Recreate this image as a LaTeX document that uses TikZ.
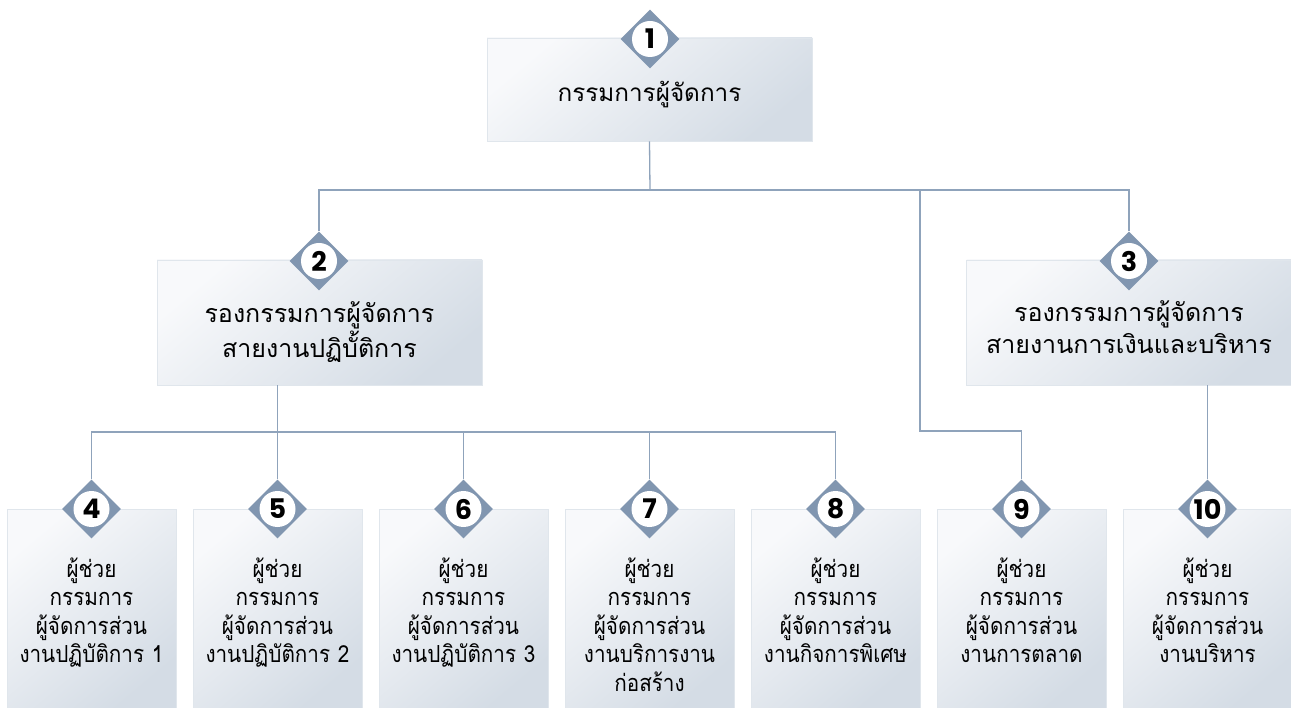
\documentclass[tikz,border=0pt]{standalone}
\usepackage{fontspec}
\usepackage{tikz}
\usetikzlibrary{shapes.geometric}
\newfontfamily\thaifont[Script=Thai]{Loma}
\newfontfamily\thainarrow[Script=Thai, FakeStretch=0.88]{Loma}
\newfontfamily\numfont{Poppins}
\definecolor{badgeblue}{HTML}{8196B0}
\definecolor{linkblue}{HTML}{8FA3BB}
\definecolor{boxlight}{HTML}{F8F9FB}
\definecolor{boxdark}{HTML}{D4DCE5}
\definecolor{boxedge}{HTML}{E0E6EC}

\begin{document}
\begin{tikzpicture}[x=1pt, y=-1pt, every node/.style={inner sep=0pt},
    post/.style={rectangle, draw=boxedge, line width=0.8pt, top color=boxlight, bottom color=boxdark, shading angle=40},
    badge/.style={diamond, fill=badgeblue, minimum size=59pt, font=\numfont\bfseries\fontsize{27}{27}\selectfont,
      path picture={\fill[white] (path picture bounding box.center) circle (18pt);}},
    title/.style={font=\thainarrow\fontsize{23.5}{28.6}\selectfont, align=center, text width=180pt, anchor=base},
    headtitle/.style={title, text width=300pt, font=\thaifont\fontsize{25}{32}\selectfont},
    link/.style={draw=linkblue, line width=1.3pt}]

    \useasboundingbox (0,0) rectangle (1291,708);

    \node [post, minimum width=325pt, minimum height=103pt] (box1) at (649.5, 89.5) {};
    \node [post, minimum width=325pt, minimum height=125pt] (box2) at (319.5, 322.5) {};
    \node [post, minimum width=325pt, minimum height=125pt] (box3) at (1129, 322.5) {};

    \node [post, minimum width=169pt, minimum height=199pt] (box4) at (91.5, 608.5) {};
    \node [post, minimum width=169pt, minimum height=199pt] (box5) at (277.5, 608.5) {};
    \node [post, minimum width=169pt, minimum height=199pt] (box6) at (463.5, 608.5) {};
    \node [post, minimum width=169pt, minimum height=199pt] (box7) at (649.5, 608.5) {};
    \node [post, minimum width=169pt, minimum height=199pt] (box8) at (835.5, 608.5) {};
    \node [post, minimum width=169pt, minimum height=199pt] (box9) at (1021.5, 608.5) {};
    \node [post, minimum width=169pt, minimum height=199pt] (box10) at (1207.5, 608.5) {};

    \node [headtitle, font=\thaifont\fontsize{24.3}{32}\selectfont] (t1) at (649.5, 102) {กรรมการผู้จัดการ};
    \node [headtitle] (t2) at (319.5, 323) {รองกรรมการผู้จัดการ\\สายงานปฏิบั้ติการ};
    \node [headtitle] (t3) at (1129, 322) {รองกรรมการผู้จัดการ\\สายงานการเงินและบริหาร};

    \node [title] (t4) at (91.5, 577) {ผู้ช่วย\\กรรมการ\\ผู้จัดการส่วน\\งานปฏิบัติการ 1};
    \node [title] (t5) at (277.5, 577) {ผู้ช่วย\\กรรมการ\\ผู้จัดการส่วน\\งานปฏิบัติการ 2};
    \node [title] (t6) at (463.5, 577) {ผู้ช่วย\\กรรมการ\\ผู้จัดการส่วน\\งานปฏิบัติการ 3};
    \node [title] (t7) at (649.5, 577) {ผู้ช่วย\\กรรมการ\\ผู้จัดการส่วน\\งานบริการงาน\\ก่อสร้าง};
    \node [title] (t8) at (835.5, 577) {ผู้ช่วย\\กรรมการ\\ผู้จัดการส่วน\\งานกิจการพิเศษ};
    \node [title] (t9) at (1021.5, 577) {ผู้ช่วย\\กรรมการ\\ผู้จัดการส่วน\\งานการตลาด};
    \node [title] (t10) at (1207.5, 577) {ผู้ช่วย\\กรรมการ\\ผู้จัดการส่วน\\งานบริหาร};

    \node [badge] (b1) at (650, 39) {1};
    \node [badge] (b2) at (319, 261) {2};
    \node [badge] (b3) at (1129, 261) {3};
    \node [badge] (b4) at (91.5, 509) {4};
    \node [badge] (b5) at (277.5, 509) {5};
    \node [badge] (b6) at (463.5, 509) {6};
    \node [badge] (b7) at (649.5, 509) {7};
    \node [badge] (b8) at (835.5, 509) {8};
    \node [badge] (b9) at (1021.5, 509) {9};
    \node [badge] (b10) at (1207.5, 509) {10};

    \coordinate (j1) at (650, 190);
    \coordinate (j2) at (920, 190);
    \coordinate (j3) at (920, 431);
    \coordinate (j4) at (277.5, 432);

    \draw [link] (box1.south) -- (j1);
    \draw [link] (b2) |- (j1) -| (b3);
    \draw [link] (j2) -- (j3) -| (b9);

    \draw [link] (box2.south -| b5) -- (b5);
    \draw [link] (b4) |- (j4) -| (b8);
    \draw [link] (b6) -- (b6 |- j4);
    \draw [link] (b7) -- (b7 |- j4);

    \draw [link] (box3.south -| b10) -- (b10);

  \end{tikzpicture}
\end{document}
